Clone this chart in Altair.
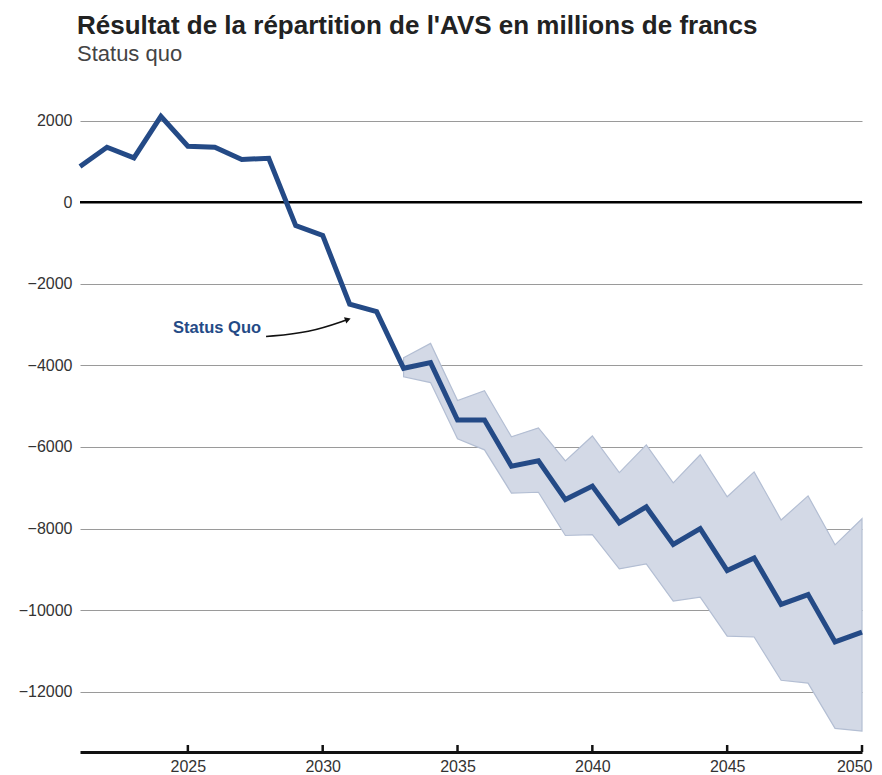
import altair as alt
import pandas as pd

years = list(range(2021, 2051))
status_quo = [880, 1350, 1090, 2110, 1375, 1350, 1050, 1080, -570, -810,
              -2500, -2680, -4070, -3930, -5340, -5340, -6470, -6340, -7290, -6960,
              -7860, -7470, -8390, -8000, -9030, -8720, -9860, -9620, -10780, -10540]

band_years = list(range(2033, 2051))
band_high = [-3810, -3460, -4860, -4620, -5750, -5530, -6340, -5730, -6630, -5950,
             -6880, -6190, -7220, -6610, -7790, -7200, -8400, -7760]
band_low = [-4280, -4420, -5800, -6070, -7130, -7110, -8170, -8150, -8990, -8870,
            -9780, -9680, -10640, -10660, -11720, -11790, -12900, -12970]

tick_years = [2025, 2030, 2035, 2040, 2045, 2050]

label_text = ["Status Quo"]
label_year = [2024.45]
label_value = [-3070]
arrow_year = [2027.9, 2029.5, 2030.9]
arrow_value = [-3290, -3200, -2880]

line_color = "#244a86"
font = "Liberation Sans"
H = 672

df = pd.DataFrame({"year": years, "value": status_quo})
dband = pd.DataFrame({"year": band_years, "high": band_high, "low": band_low})
dlab = pd.DataFrame({"year": label_year, "value": label_value, "text": label_text})
darrow = pd.DataFrame({"year": arrow_year, "value": arrow_value, "order": [0, 1, 2]})
dhead = darrow.tail(1)
dticks = pd.DataFrame({"year": tick_years})

xscale = alt.Scale(domain=[2021, 2050], nice=False, zero=False)
yscale = alt.Scale(domain=[-13480, 3000], nice=False, zero=False)

xax = alt.Axis(values=tick_years, format="d", title=None,
               grid=False, domainColor="#111", domainWidth=3, ticks=False,
               labelFontSize=16, labelColor="#333",
               labelFont=font, labelPadding=6, labelFlush=True, labelFlushOffset=10)
yax = alt.Axis(values=list(range(-12000, 2001, 2000)), format="d", title=None,
               grid=True, gridColor="#9a9a9a", gridWidth=1, domain=False, ticks=False,
               labelFontSize=16, labelColor="#333", labelFont=font, labelPadding=8)

band = alt.Chart(dband).mark_area(fill="#d3d9e6", stroke="#b3bed3", strokeWidth=1.2).encode(
    x=alt.X("year:Q", scale=xscale, axis=xax),
    y=alt.Y("high:Q", scale=yscale, axis=yax),
    y2="low:Q",
)

zero = alt.Chart(pd.DataFrame({"v": [0]})).mark_rule(color="#000", strokeWidth=2.5).encode(
    y=alt.Y("v:Q", scale=yscale)
)

ticks = alt.Chart(dticks).mark_rule(color="#111", strokeWidth=2.5).encode(
    x=alt.X("year:Q", scale=xscale),
    y=alt.value(H - 7),
    y2=alt.value(H),
)

line = alt.Chart(df).mark_line(color=line_color, strokeWidth=5, strokeJoin="miter").encode(
    x=alt.X("year:Q", scale=xscale),
    y=alt.Y("value:Q", scale=yscale),
)

label = alt.Chart(dlab).mark_text(align="left", baseline="middle", font=font,
                                  fontSize=16.5, fontWeight="bold", color=line_color).encode(
    x=alt.X("year:Q", scale=xscale),
    y=alt.Y("value:Q", scale=yscale),
    text="text:N",
)

arrow = alt.Chart(darrow).mark_line(color="#111", strokeWidth=1.6, interpolate="basis").encode(
    x=alt.X("year:Q", scale=xscale),
    y=alt.Y("value:Q", scale=yscale),
    order="order:Q",
)

head = alt.Chart(dhead).mark_point(shape="triangle", filled=True, color="#111", size=45,
                                   angle=70, opacity=1).encode(
    x=alt.X("year:Q", scale=xscale),
    y=alt.Y("value:Q", scale=yscale),
)

chart = alt.layer(band, zero, ticks, line, label, arrow, head).properties(
    width=782,
    height=H,
    autosize=alt.AutoSizeParams(type="none"),
    padding={"left": 72, "top": 72, "right": 12, "bottom": 30},
    title=alt.Title(
        "Résultat de la répartition de l'AVS en millions de francs",
        subtitle="Status quo",
        anchor="start",
        frame="group",
        dx=-3,
        font=font, fontSize=26, fontWeight="bold", color="#222",
        subtitleFont=font, subtitleFontSize=22, subtitleColor="#444",
        subtitlePadding=5, offset=15,
    ),
).configure_view(strokeWidth=0, stroke="transparent")

chart.save("out.html", embed_options={"renderer": "svg", "actions": False})
